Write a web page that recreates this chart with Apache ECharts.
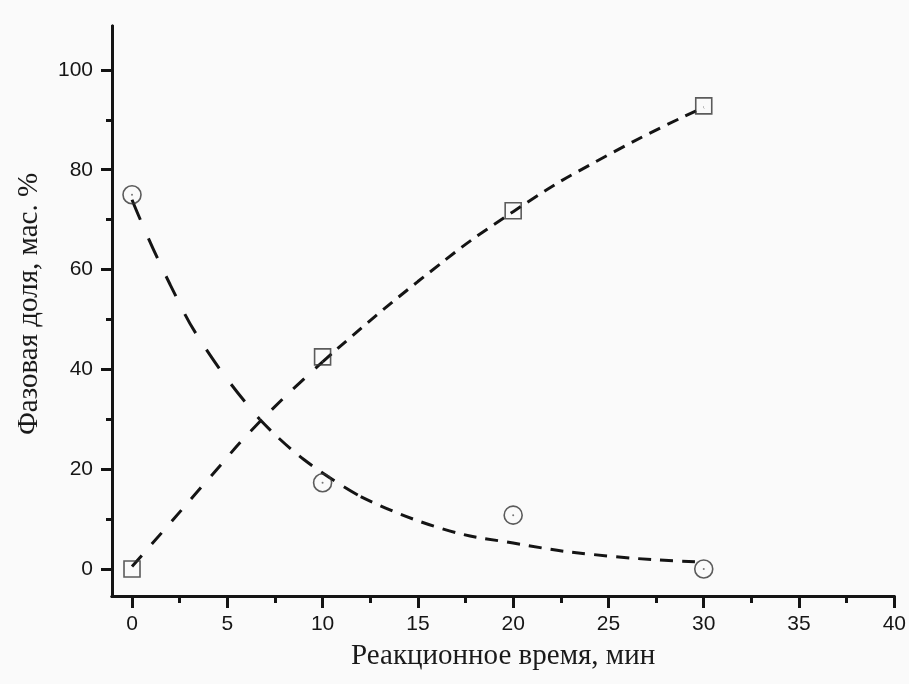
<!DOCTYPE html>
<html><head><meta charset="utf-8">
<script src="https://cdn.jsdelivr.net/npm/echarts@6/dist/echarts.min.js"></script>
<style>html,body{margin:0;padding:0;background:#fafafa;}#c{width:909px;height:684px;}</style>
</head><body><div id="c"></div>
<script>
// Measured data points
const squareX = [0, 10, 20, 30];
const squareY = [0, 42.5, 71.8, 92.8];
const circleX = [0, 10, 20, 30];
const circleY = [75, 17.3, 10.8, 0];
// Fit curves
const squareFitSteep = [[0, 0.5], [2, 9.2], [4, 18], [6.7, 29.5], [10, 41.5]];
const squareFitFlat = [[10, 41.5], [15, 57.6], [20, 71.6], [25, 83], [30, 92.5]];
const circleFitSteep = [[0, 74], [2, 57], [4, 43.4], [6.7, 30]];
const circleFitMid = [[6.7, 30], [9, 22], [12, 14.5]];
const circleFitFlat = [[12, 14.5], [16, 8.4], [20, 5.2], [25, 2.6], [30, 1.4]];
// Ticks
const xMajor = [0, 5, 10, 15, 20, 25, 30, 35, 40];
const xMinor = [2.5, 7.5, 12.5, 17.5, 22.5, 27.5, 32.5, 37.5];
const yMajor = [0, 20, 40, 60, 80, 100];
const yMinor = [10, 30, 50, 70, 90];

const xMin = -1.05, xMax = 40, yMin = -5.4, yMax = 108.8;
const ink = '#141414';
const labelFont = "'Liberation Sans', Arial, sans-serif";
const nameFont = "'Liberation Serif', 'Times New Roman', serif";

function zip(xs, ys) { return xs.map((x, i) => [x, ys[i]]); }

const baseX = {type: 'value', min: xMin, max: xMax, position: 'bottom', splitLine: {show: false},
  axisLine: {show: true, onZero: false, lineStyle: {color: ink, width: 3}}};
const baseY = {type: 'value', min: yMin, max: yMax, position: 'left', splitLine: {show: false},
  axisLine: {show: true, onZero: false, lineStyle: {color: ink, width: 3}}};

function fitLine(data, dash) {
  return {type: 'line', data: data, smooth: true, symbol: 'none', silent: true, z: 2,
    lineStyle: {color: ink, width: 3, type: dash}};
}

const option = {
  backgroundColor: '#fafafa',
  animation: false,
  grid: {left: 112, right: 12, top: 26, bottom: 88},
  xAxis: [
    Object.assign({}, baseX, {
      axisTick: {show: true, length: 12, customValues: xMajor, lineStyle: {color: ink, width: 3}},
      axisLabel: {show: true, customValues: xMajor, margin: 18, fontSize: 21, color: '#151515', fontFamily: labelFont},
      name: 'Реакционное время, мин', nameLocation: 'middle', nameGap: 46,
      nameTextStyle: {fontSize: 29, color: '#1a1a1a', fontFamily: nameFont}
    }),
    Object.assign({}, baseX, {
      axisTick: {show: true, length: 7, customValues: xMinor, lineStyle: {color: ink, width: 3}},
      axisLabel: {show: false}
    })
  ],
  yAxis: [
    Object.assign({}, baseY, {
      axisTick: {show: true, length: 11, customValues: yMajor, lineStyle: {color: ink, width: 3}},
      axisLabel: {show: true, customValues: yMajor, margin: 19, fontSize: 21, color: '#151515', fontFamily: labelFont},
      name: 'Фазовая доля, мас. %', nameLocation: 'middle', nameGap: 68,
      nameTextStyle: {fontSize: 29, color: '#1a1a1a', fontFamily: nameFont, padding: [0, 0, 0, 14]}
    }),
    Object.assign({}, baseY, {
      axisTick: {show: true, length: 6, customValues: yMinor, lineStyle: {color: ink, width: 3}},
      axisLabel: {show: false}
    })
  ],
  series: [
    fitLine(squareFitSteep, [15, 15]),
    fitLine(squareFitFlat, [12, 8]),
    fitLine(circleFitSteep, [22, 20]),
    fitLine(circleFitMid, [16, 11]),
    fitLine(circleFitFlat, [13, 9]),
    {type: 'scatter', data: zip(squareX, squareY), symbol: 'rect', symbolSize: 16, z: 3,
      itemStyle: {color: 'rgba(0,0,0,0)', borderColor: '#333', borderWidth: 1.6}},
    {type: 'scatter', data: zip(circleX, circleY), symbol: 'circle', symbolSize: 18, z: 3,
      itemStyle: {color: 'rgba(0,0,0,0)', borderColor: '#333', borderWidth: 1.6}},
    {type: 'scatter', data: zip(circleX, circleY), symbol: 'circle', symbolSize: 2, z: 3,
      itemStyle: {color: '#555'}}
  ]
};
echarts.init(document.getElementById('c')).setOption(option);
</script>
</body></html>
